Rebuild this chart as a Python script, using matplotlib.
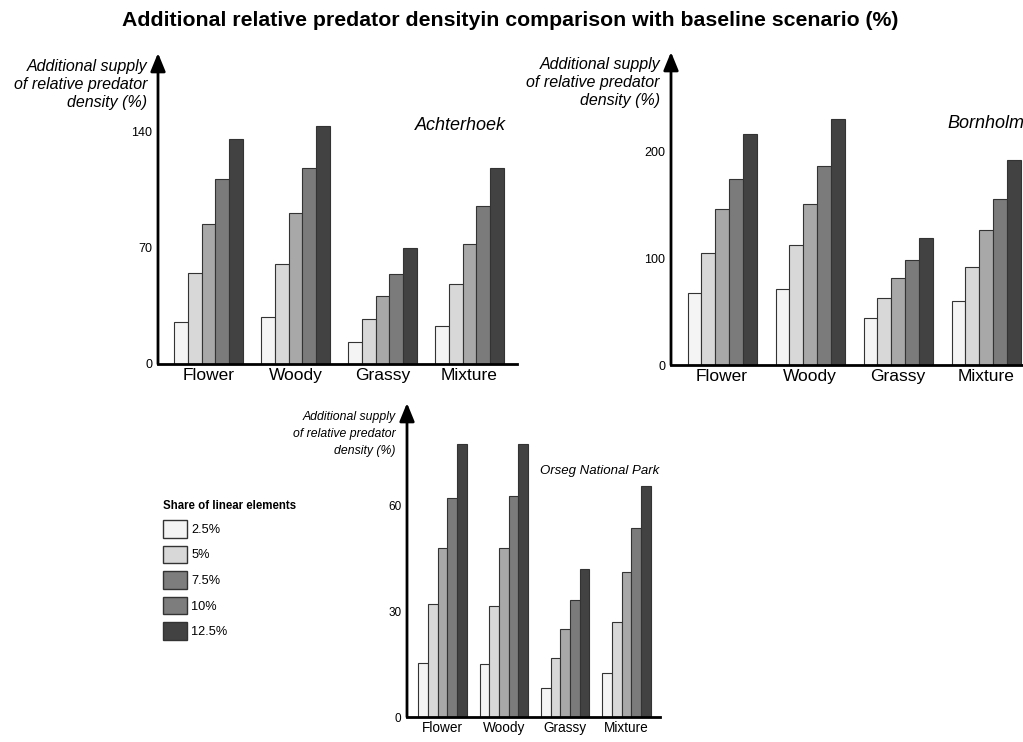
import matplotlib
matplotlib.use('Agg')
import matplotlib.pyplot as plt
from matplotlib.patches import Patch
from matplotlib import font_manager
import numpy as np

# Данные
categories = ['Flower', 'Woody', 'Grassy', 'Mixture']
shares = ['2.5%', '5%', '7.5%', '10%', '12.5%']
bar_colors = ['#f4f4f4', '#d8d8d8', '#a8a8a8', '#7b7b7b', '#424242']
legend_colors = ['#f4f4f4', '#d8d8d8', '#7d7d7d', '#7d7d7d', '#424242']

# значения по категориям: [2.5%, 5%, 7.5%, 10%, 12.5%]
achterhoek = [[25, 55, 84, 111, 135],
              [28, 60, 91, 118, 143],
              [13, 27, 41, 54, 70],
              [23, 48, 72, 95, 118]]
bornholm = [[67, 105, 146, 174, 216],
            [71, 112, 151, 186, 230],
            [44, 63, 81, 98, 119],
            [60, 92, 126, 155, 192]]
orseg = [[15.3, 32, 47.8, 62, 77.3],
         [15, 31.5, 47.8, 62.7, 77.3],
         [8.2, 16.8, 25, 33.2, 41.8],
         [12.5, 27, 41, 53.4, 65.3]]

W, H = 1023, 742
installed = {f.name for f in font_manager.fontManager.ttflist}
base = 'Liberation Sans' if 'Liberation Sans' in installed else 'DejaVu Sans'
plt.rcParams['font.family'] = base

fig = plt.figure(figsize=(W / 100, H / 100), dpi=100)


def panel(data, left, top, spacing, bottom, ymax, ticks, name, name_xy, fs):
    width = 4.13 * spacing
    ax = fig.add_axes([left / W, 1 - bottom / H, width / W, (bottom - top) / H])
    x = np.arange(len(categories))
    bw = 0.157
    for i in range(len(shares)):
        vals = [row[i] for row in data]
        ax.bar(x + (i - 2) * bw, vals, bw, color=bar_colors[i],
               edgecolor='#333333', linewidth=0.8, zorder=2)
    ax.set_xlim(-0.58, 3.55)
    ax.set_ylim(0, ymax)
    for s in ['top', 'right', 'left']:
        ax.spines[s].set_visible(False)
    ax.spines['bottom'].set_linewidth(2)
    ax.set_xticks(x)
    ax.set_xticklabels(categories, fontsize=fs['cat'])
    ax.set_yticks(ticks)
    ax.set_yticklabels([str(t) for t in ticks], fontsize=fs['tick'])
    ax.tick_params(axis='both', length=0)
    ax.tick_params(axis='x', pad=3)
    ax.tick_params(axis='y', pad=4)
    ax.annotate('', xy=(0, 1), xycoords='axes fraction', xytext=(0, 0),
                textcoords='axes fraction', annotation_clip=False,
                arrowprops=dict(arrowstyle='-|>,head_length=1.1,head_width=0.45',
                                lw=2, color='black', shrinkA=0, shrinkB=0))
    fig.text(name_xy[0] / W, 1 - name_xy[1] / H, name, style='italic',
             fontsize=fs['name'], ha='left', va='center')
    fig.text((left - 11) / W, 1 - (top + 31) / H,
             'Additional supply\nof relative predator\ndensity (%)',
             style='italic', fontsize=fs['ylab'],
             ha='right', va='center', multialignment='right',
             linespacing=fs['ls'])
    return ax


fs_big = dict(cat=12.5, tick=9, name=13, ylab=11.5, ls=1.25)
fs_small = dict(cat=9.8, tick=8.5, name=9.5, ylab=8.8, ls=1.6)

panel(achterhoek, 158, 53, 87, 364, 187, [0, 70, 140], 'Achterhoek', (415, 125), fs_big)
panel(bornholm, 671, 52, 88, 365, 293, [0, 100, 200], 'Bornholm', (947, 124), fs_big)
panel(orseg, 407, 403, 61.3, 717, 88.9, [0, 30, 60], 'Orseg National Park', (540, 471), fs_small)

fig.text(510 / W, 1 - 20 / H,
         'Additional relative predator densityin comparison with baseline scenario (%)',
         fontsize=15.3, fontweight='bold', ha='center', va='center')

handles = [Patch(facecolor=c, edgecolor='#333333', linewidth=1) for c in legend_colors]
lfs = 9.2
fig.legend(handles, shares, loc='upper left', bbox_to_anchor=(163 / W, 1 - 500 / H),
           frameon=False, title='Share of linear elements', alignment='left',
           prop=dict(size=lfs),
           title_fontproperties=dict(size=8.3, weight='bold'),
           handlelength=1.9, handleheight=1.75, labelspacing=0.62,
           handletextpad=0.3, borderpad=0, borderaxespad=0)

fig.savefig('out.png', dpi=100)
